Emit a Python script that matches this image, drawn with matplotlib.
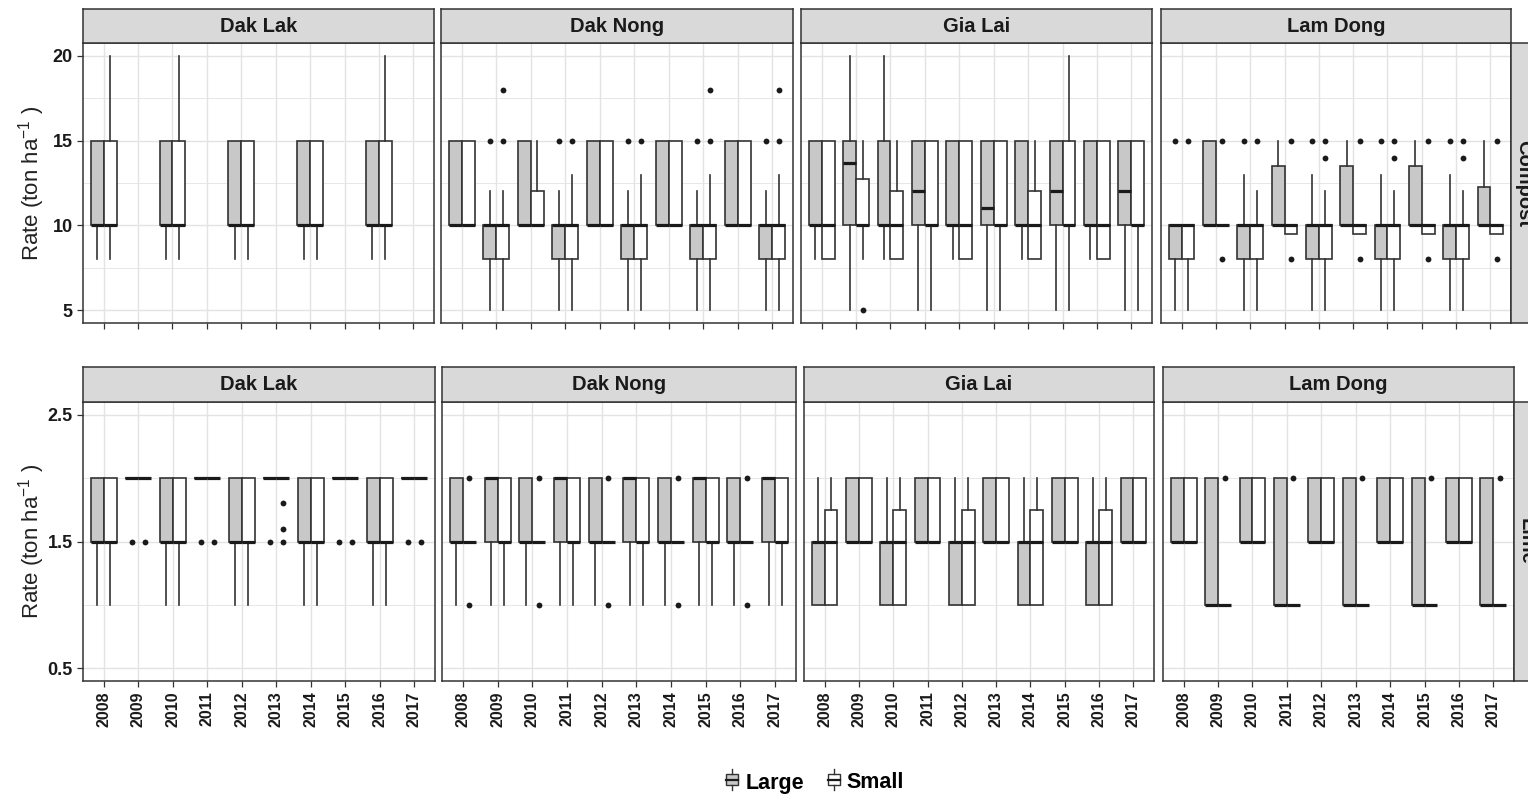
import numpy as np
import matplotlib.pyplot as plt
from matplotlib.patches import Rectangle
from matplotlib.lines import Line2D
from matplotlib.legend_handler import HandlerBase

plt.rcParams['font.family'] = ['Liberation Sans', 'DejaVu Sans']
plt.rcParams['mathtext.fontset'] = 'custom'
plt.rcParams['mathtext.rm'] = 'Liberation Sans'
plt.rcParams['mathtext.it'] = 'Liberation Sans:italic'

years = ["2008", "2009", "2010", "2011", "2012", "2013", "2014", "2015", "2016", "2017"]
provinces = ["Dak Lak", "Dak Nong", "Gia Lai", "Lam Dong"]

# each entry: (whisker low, Q1, median, Q3, whisker high, outliers); None = no data
# --- Compost (ton/ha) ---
compost_daklak_large = [(8, 10, 10, 15, 15, []), None, (8, 10, 10, 15, 15, []), None,
                        (8, 10, 10, 15, 15, []), None, (8, 10, 10, 15, 15, []), None,
                        (8, 10, 10, 15, 15, []), None]
compost_daklak_small = [(8, 10, 10, 15, 20, []), None, (8, 10, 10, 15, 20, []), None,
                        (8, 10, 10, 15, 15, []), None, (8, 10, 10, 15, 15, []), None,
                        (8, 10, 10, 15, 20, []), None]

compost_daknong_large = [(10, 10, 10, 15, 15, []), (5, 8, 10, 10, 12, [15]),
                         (10, 10, 10, 15, 15, []), (5, 8, 10, 10, 12, [15]),
                         (10, 10, 10, 15, 15, []), (5, 8, 10, 10, 12, [15]),
                         (10, 10, 10, 15, 15, []), (5, 8, 10, 10, 12, [15]),
                         (10, 10, 10, 15, 15, []), (5, 8, 10, 10, 12, [15])]
compost_daknong_small = [(10, 10, 10, 15, 15, []), (5, 8, 10, 10, 12, [15, 18]),
                         (10, 10, 10, 12, 15, []), (5, 8, 10, 10, 13, [15]),
                         (10, 10, 10, 15, 15, []), (5, 8, 10, 10, 13, [15]),
                         (10, 10, 10, 15, 15, []), (5, 8, 10, 10, 13, [15, 18]),
                         (10, 10, 10, 15, 15, []), (5, 8, 10, 10, 13, [15, 18])]

compost_gialai_large = [(8, 10, 10, 15, 15, []), (5, 10, 13.7, 15, 20, []),
                        (8, 10, 10, 15, 20, []), (5, 10, 12, 15, 15, []),
                        (8, 10, 10, 15, 15, []), (5, 10, 11, 15, 15, []),
                        (8, 10, 10, 15, 15, []), (5, 10, 12, 15, 15, []),
                        (8, 10, 10, 15, 15, []), (5, 10, 12, 15, 15, [])]
compost_gialai_small = [(8, 8, 10, 15, 15, []), (8, 10, 10, 12.75, 15, [5]),
                        (8, 8, 10, 12, 15, []), (5, 10, 10, 15, 15, []),
                        (8, 8, 10, 15, 15, []), (5, 10, 10, 15, 15, []),
                        (8, 8, 10, 12, 15, []), (5, 10, 10, 15, 20, []),
                        (8, 8, 10, 15, 15, []), (5, 10, 10, 15, 15, [])]

compost_lamdong_large = [(5, 8, 10, 10, 10, [15]), (10, 10, 10, 15, 15, []),
                         (5, 8, 10, 10, 13, [15]), (10, 10, 10, 13.5, 15, []),
                         (5, 8, 10, 10, 13, [15]), (10, 10, 10, 13.5, 15, []),
                         (5, 8, 10, 10, 13, [15]), (10, 10, 10, 13.5, 15, []),
                         (5, 8, 10, 10, 13, [15]), (10, 10, 10, 12.25, 15, [])]
compost_lamdong_small = [(5, 8, 10, 10, 10, [15]), (10, 10, 10, 10, 10, [15, 8]),
                         (5, 8, 10, 10, 12, [15]), (9.5, 9.5, 10, 10, 10, [15, 8]),
                         (5, 8, 10, 10, 12, [15, 14]), (9.5, 9.5, 10, 10, 10, [15, 8]),
                         (5, 8, 10, 10, 12, [15, 14]), (9.5, 9.5, 10, 10, 10, [15, 8]),
                         (5, 8, 10, 10, 12, [15, 14]), (9.5, 9.5, 10, 10, 10, [15, 8])]

# --- Lime (ton/ha) ---
lime_daklak_large = [(1, 1.5, 1.5, 2, 2, []), (2, 2, 2, 2, 2, [1.5]),
                     (1, 1.5, 1.5, 2, 2, []), (2, 2, 2, 2, 2, [1.5]),
                     (1, 1.5, 1.5, 2, 2, []), (2, 2, 2, 2, 2, [1.5]),
                     (1, 1.5, 1.5, 2, 2, []), (2, 2, 2, 2, 2, [1.5]),
                     (1, 1.5, 1.5, 2, 2, []), (2, 2, 2, 2, 2, [1.5])]
lime_daklak_small = [(1, 1.5, 1.5, 2, 2, []), (2, 2, 2, 2, 2, [1.5]),
                     (1, 1.5, 1.5, 2, 2, []), (2, 2, 2, 2, 2, [1.5]),
                     (1, 1.5, 1.5, 2, 2, []), (2, 2, 2, 2, 2, [1.5, 1.6, 1.8]),
                     (1, 1.5, 1.5, 2, 2, []), (2, 2, 2, 2, 2, [1.5]),
                     (1, 1.5, 1.5, 2, 2, []), (2, 2, 2, 2, 2, [1.5])]

lime_daknong_large = [(1, 1.5, 1.5, 2, 2, []), (1, 1.5, 2, 2, 2, []),
                      (1, 1.5, 1.5, 2, 2, []), (1, 1.5, 2, 2, 2, []),
                      (1, 1.5, 1.5, 2, 2, []), (1, 1.5, 2, 2, 2, []),
                      (1, 1.5, 1.5, 2, 2, []), (1, 1.5, 2, 2, 2, []),
                      (1, 1.5, 1.5, 2, 2, []), (1, 1.5, 2, 2, 2, [])]
lime_daknong_small = [(1.5, 1.5, 1.5, 1.5, 1.5, [2, 1]), (1, 1.5, 1.5, 2, 2, []),
                      (1.5, 1.5, 1.5, 1.5, 1.5, [2, 1]), (1, 1.5, 1.5, 2, 2, []),
                      (1.5, 1.5, 1.5, 1.5, 1.5, [2, 1]), (1, 1.5, 1.5, 2, 2, []),
                      (1.5, 1.5, 1.5, 1.5, 1.5, [2, 1]), (1, 1.5, 1.5, 2, 2, []),
                      (1.5, 1.5, 1.5, 1.5, 1.5, [2, 1]), (1, 1.5, 1.5, 2, 2, [])]

lime_gialai_large = [(1, 1, 1.5, 1.5, 2, []), (1.5, 1.5, 1.5, 2, 2, []),
                     (1, 1, 1.5, 1.5, 2, []), (1.5, 1.5, 1.5, 2, 2, []),
                     (1, 1, 1.5, 1.5, 2, []), (1.5, 1.5, 1.5, 2, 2, []),
                     (1, 1, 1.5, 1.5, 2, []), (1.5, 1.5, 1.5, 2, 2, []),
                     (1, 1, 1.5, 1.5, 2, []), (1.5, 1.5, 1.5, 2, 2, [])]
lime_gialai_small = [(1, 1, 1.5, 1.75, 2, []), (1.5, 1.5, 1.5, 2, 2, []),
                     (1, 1, 1.5, 1.75, 2, []), (1.5, 1.5, 1.5, 2, 2, []),
                     (1, 1, 1.5, 1.75, 2, []), (1.5, 1.5, 1.5, 2, 2, []),
                     (1, 1, 1.5, 1.75, 2, []), (1.5, 1.5, 1.5, 2, 2, []),
                     (1, 1, 1.5, 1.75, 2, []), (1.5, 1.5, 1.5, 2, 2, [])]

lime_lamdong_large = [(1.5, 1.5, 1.5, 2, 2, []), (1, 1, 1, 2, 2, []),
                      (1.5, 1.5, 1.5, 2, 2, []), (1, 1, 1, 2, 2, []),
                      (1.5, 1.5, 1.5, 2, 2, []), (1, 1, 1, 2, 2, []),
                      (1.5, 1.5, 1.5, 2, 2, []), (1, 1, 1, 2, 2, []),
                      (1.5, 1.5, 1.5, 2, 2, []), (1, 1, 1, 2, 2, [])]
lime_lamdong_small = [(1.5, 1.5, 1.5, 2, 2, []), (1, 1, 1, 1, 1, [2]),
                      (1.5, 1.5, 1.5, 2, 2, []), (1, 1, 1, 1, 1, [2]),
                      (1.5, 1.5, 1.5, 2, 2, []), (1, 1, 1, 1, 1, [2]),
                      (1.5, 1.5, 1.5, 2, 2, []), (1, 1, 1, 1, 1, [2]),
                      (1.5, 1.5, 1.5, 2, 2, []), (1, 1, 1, 1, 1, [2])]

compost_large = [compost_daklak_large, compost_daknong_large, compost_gialai_large, compost_lamdong_large]
compost_small = [compost_daklak_small, compost_daknong_small, compost_gialai_small, compost_lamdong_small]
lime_large = [lime_daklak_large, lime_daknong_large, lime_gialai_large, lime_lamdong_large]
lime_small = [lime_daklak_small, lime_daknong_small, lime_gialai_small, lime_lamdong_small]

LARGE_FILL = '#C8C8C8'
SMALL_FILL = '#FFFFFF'
EDGE = '#333333'
GRID = '#E3E3E3'
STRIP = '#D9D9D9'

W, H = 1528, 798
fig = plt.figure(figsize=(W / 100, H / 100), dpi=100)


def px_axes(x0, y0, x1, y1):
    return fig.add_axes([x0 / W, 1 - y1 / H, (x1 - x0) / W, (y1 - y0) / H])


def draw_boxes(ax, rows, offset, face):
    stats, pos = [], []
    for i, r in enumerate(rows):
        if r is None:
            continue
        lo, q1, med, q3, hi, out = r
        stats.append(dict(whislo=lo, q1=q1, med=med, q3=q3, whishi=hi, fliers=out))
        pos.append(i + 1 + offset)
    ax.bxp(stats, positions=pos, widths=0.375, patch_artist=True, showcaps=False,
           manage_ticks=False,
           boxprops=dict(facecolor=face, edgecolor=EDGE, linewidth=1.2),
           medianprops=dict(color='#1A1A1A', linewidth=2.3, solid_capstyle='butt'),
           whiskerprops=dict(color=EDGE, linewidth=1.2),
           flierprops=dict(marker='o', markersize=4.2, markerfacecolor='#1A1A1A',
                           markeredgewidth=0))


def strip(x0, y0, x1, y1, label, rot=0, tx=0.5):
    s = px_axes(x0, y0, x1, y1)
    s.set_facecolor(STRIP)
    s.set_xticks([])
    s.set_yticks([])
    for sp in s.spines.values():
        sp.set_color(EDGE)
        sp.set_linewidth(1.1)
    s.text(tx, 0.5, label, transform=s.transAxes, ha='center', va='center',
           fontsize=14.5, fontweight='bold', color='#1A1A1A', rotation=rot)


def panel(box, large, small, ylim, yticks, yminor, first, bottom):
    ax = px_axes(*box)
    ax.set_xlim(0.4, 10.6)
    ax.set_ylim(*ylim)
    ax.set_axisbelow(True)
    ax.set_xticks(np.arange(1, 11))
    ax.set_yticks(yticks)
    ax.set_yticks(yminor, minor=True)
    ax.grid(True, which='major', color=GRID, linewidth=1.0)
    ax.grid(True, which='minor', axis='y', color=GRID, linewidth=0.6)
    draw_boxes(ax, large, -0.1875, LARGE_FILL)
    draw_boxes(ax, small, 0.1875, SMALL_FILL)
    for sp in ax.spines.values():
        sp.set_color(EDGE)
        sp.set_linewidth(1.1)
    ax.tick_params(axis='both', which='major', length=4, width=0.9, color=EDGE)
    ax.tick_params(axis='y', which='minor', length=0)
    if bottom:
        ax.set_xticklabels(years, rotation=90, fontsize=11.5, fontweight='bold', color='#1A1A1A')
    else:
        ax.set_xticklabels([])
    if first:
        ax.set_yticklabels([f"{t:g}" for t in yticks], fontsize=13, fontweight='bold',
                           color='#1A1A1A')
    else:
        ax.tick_params(axis='y', which='both', left=False, labelleft=False)
    return ax


top_cols = [(83, 434), (441, 793), (801, 1152), (1161, 1511)]
bot_cols = [(83, 435), (442, 796), (804, 1154), (1163, 1514)]

for i, (x0, x1) in enumerate(top_cols):
    panel((x0, 43, x1, 323), compost_large[i], compost_small[i], (4.25, 20.75),
          [5, 10, 15, 20], [7.5, 12.5, 17.5], i == 0, False)
    strip(x0, 9, x1, 43, provinces[i])
strip(1511, 43, 1545, 323, "Compost", rot=270, tx=0.36)

for i, (x0, x1) in enumerate(bot_cols):
    panel((x0, 402, x1, 681), lime_large[i], lime_small[i], (0.4, 2.6),
          [0.5, 1.5, 2.5], [1.0, 2.0], i == 0, True)
    strip(x0, 367, x1, 402, provinces[i])
strip(1514, 402, 1548, 681, "Lime", rot=270, tx=0.36)

ylab = r"Rate (ton ha$^{-1}$ )"
fig.text(32 / W, 1 - 183 / H, ylab, rotation=90, ha='center', va='center',
         fontsize=16, color='#222222')
fig.text(32 / W, 1 - 541 / H, ylab, rotation=90, ha='center', va='center',
         fontsize=16, color='#222222')


class BoxKey(HandlerBase):
    def create_artists(self, legend, orig, xd, yd, w, h, fontsize, trans):
        bx0, bw = xd + w * 0.15, w * 0.7
        by0, bh = yd + h * 0.15, h * 0.7
        rect = Rectangle((bx0, by0), bw, bh, facecolor=orig.get_facecolor(),
                         edgecolor=EDGE, linewidth=1.0, transform=trans)
        med = Line2D([bx0, bx0 + bw], [yd + h / 2] * 2, color='#1A1A1A', linewidth=1.6,
                     transform=trans)
        w1 = Line2D([xd + w / 2] * 2, [yd - h * 0.15, by0], color=EDGE, linewidth=1.0,
                    transform=trans)
        w2 = Line2D([xd + w / 2] * 2, [by0 + bh, yd + h * 1.15], color=EDGE, linewidth=1.0,
                    transform=trans)
        return [rect, med, w1, w2]


handles = [Rectangle((0, 0), 1, 1, facecolor=LARGE_FILL), Rectangle((0, 0), 1, 1, facecolor=SMALL_FILL)]
fig.legend(handles, ["Large", "Small"], handler_map={Rectangle: BoxKey()},
           loc='center', bbox_to_anchor=(814 / W, 1 - 783 / H), ncol=2, frameon=False,
           prop=dict(size=15.5, weight='bold'), handlelength=0.8, handleheight=0.8,
           handletextpad=0.2, columnspacing=1.0)

fig.savefig("out.png", dpi=100, facecolor='white')
